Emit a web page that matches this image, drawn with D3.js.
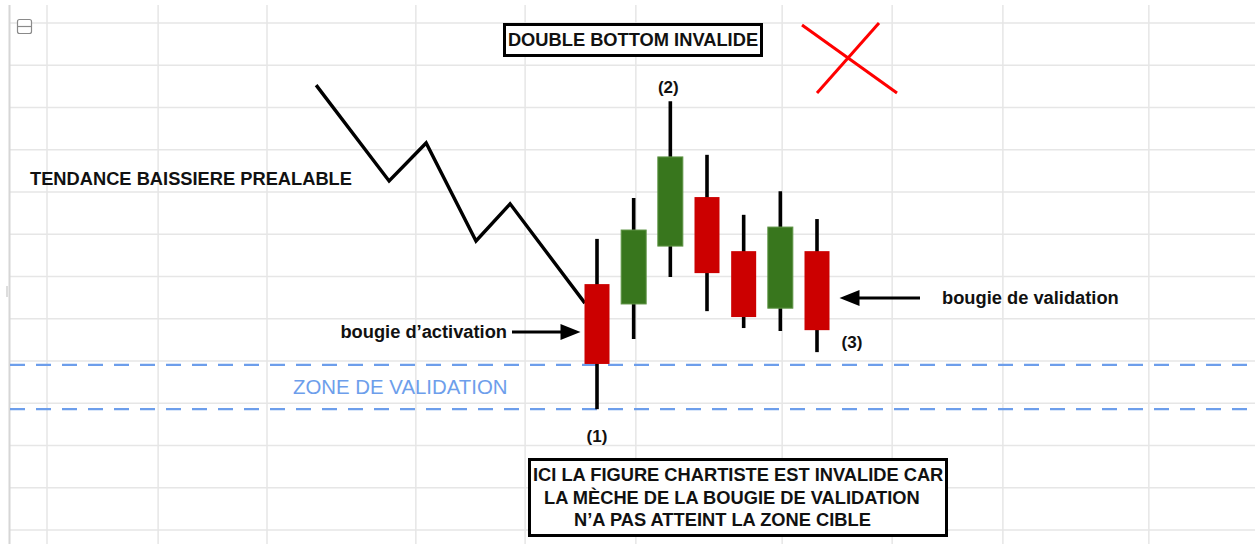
<!DOCTYPE html>
<html>
<head>
<meta charset="utf-8">
<script src="https://cdn.jsdelivr.net/npm/d3@7"></script>
<style>
  html, body { margin: 0; padding: 0; background: #fff; }
  svg { display: block; }
  text { font-family: "Liberation Sans", Arial, Helvetica, sans-serif; }
</style>
</head>
<body>
<div id="chart"></div>
<script>
// ── Data (prices in grid units, x in candle index units) ──
const candles = [0, 1, 2, 3, 4, 5, 6];
const opens  = [5.82, 5.35, 6.72, 7.88, 6.60, 5.25, 6.60];
const closes = [3.93, 7.10, 8.83, 6.08, 5.04, 7.17, 4.73];
const highs  = [6.89, 7.86, 10.15, 8.88, 7.46, 8.02, 7.36];
const lows   = [2.86, 4.52, 5.99, 5.18, 4.78, 4.71, 4.21];

// prior downtrend (zig-zag)
const trendX = [-7.66, -5.67, -4.66, -3.30, -2.37, -0.33];
const trendY = [10.53, 8.26, 9.16, 6.84, 7.72, 5.37];

// validation zone bounds
const zoneTop = 3.91;
const zoneBottom = 2.86;

// spreadsheet background grid
const gridCols = [-15.0, -11.97, -9.0, -4.94, -1.96, 1.06, 5.05, 8.05, 11.07, 15.05];
const gridRows = d3.range(0, 13);

const labels = {
  title: 'DOUBLE BOTTOM INVALIDE',
  trend: 'TENDANCE BAISSIERE PREALABLE',
  activation: 'bougie d\u2019activation',
  validation: 'bougie de validation',
  zone: 'ZONE DE VALIDATION',
  note: ['ICI LA FIGURE CHARTISTE EST INVALIDE CAR', 'LA M\u00c8CHE DE LA BOUGIE DE VALIDATION', 'N\u2019A PAS ATTEINT LA ZONE CIBLE']
};

const W = 1255, H = 544;
const RED = '#cc0000', GREEN = '#38761d', BLUE = '#6d9eeb';
const FS = '18.3px';

const x = d3.scaleLinear().domain([0, 6]).range([597, 817]);
const y = d3.scaleLinear().domain([0, 12]).range([530, 23]);

const svg = d3.select('#chart').append('svg')
  .attr('width', W)
  .attr('height', H);

svg.append('rect').attr('width', W).attr('height', H).attr('fill', '#fff');

// ── Grid ──
const grid = svg.append('g');
grid.selectAll('.row')
  .data(gridRows)
  .enter().append('line')
  .attr('x1', 10).attr('x2', W)
  .attr('y1', d => y(d)).attr('y2', d => y(d))
  .attr('stroke', '#e6e6e6').attr('stroke-width', 1.5);

grid.selectAll('.col')
  .data(gridCols)
  .enter().append('line')
  .attr('x1', d => x(d)).attr('x2', d => x(d))
  .attr('y1', 5).attr('y2', H)
  .attr('stroke', '#e6e6e6').attr('stroke-width', 1.5);

// left border
grid.append('line')
  .attr('x1', 9.5).attr('x2', 9.5).attr('y1', 5).attr('y2', H)
  .attr('stroke', '#d6d6d6').attr('stroke-width', 2);
grid.append('line')
  .attr('x1', 7).attr('x2', 7).attr('y1', 286).attr('y2', 297)
  .attr('stroke', '#bbb').attr('stroke-width', 1);

// collapse icon
svg.append('rect')
  .attr('x', 17.5).attr('y', 19.5).attr('width', 14).attr('height', 14).attr('rx', 2)
  .attr('fill', '#fff').attr('stroke', '#8a8a8a').attr('stroke-width', 1.2);
svg.append('line')
  .attr('x1', 18).attr('x2', 31).attr('y1', 26.5).attr('y2', 26.5)
  .attr('stroke', '#8a8a8a').attr('stroke-width', 1.2);

// ── Validation zone ──
svg.selectAll('.zone')
  .data([zoneTop, zoneBottom])
  .enter().append('line')
  .attr('x1', 10).attr('x2', W)
  .attr('y1', d => y(d)).attr('y2', d => y(d))
  .attr('stroke', BLUE).attr('stroke-width', 2.2)
  .attr('stroke-dasharray', '15,11');

svg.append('text')
  .attr('x', 293).attr('y', (y(zoneTop) + y(zoneBottom)) / 2 + 7)
  .attr('font-size', '20.4px').attr('fill', BLUE)
  .text(labels.zone);

// ── Prior trend ──
const trendLine = d3.line()
  .x((d, i) => x(trendX[i]))
  .y(d => y(d));

svg.append('path')
  .datum(trendY)
  .attr('fill', 'none')
  .attr('stroke', '#000')
  .attr('stroke-width', 3.4)
  .attr('stroke-linejoin', 'miter')
  .attr('d', trendLine);

// ── Candles ──
const bodyW = 25;
const cg = svg.append('g');

cg.selectAll('.wick')
  .data(candles)
  .enter().append('line')
  .attr('x1', i => x(i)).attr('x2', i => x(i))
  .attr('y1', i => y(highs[i])).attr('y2', i => y(lows[i]))
  .attr('stroke', '#000').attr('stroke-width', 3.6);

cg.selectAll('.body')
  .data(candles)
  .enter().append('rect')
  .attr('x', i => x(i) - bodyW / 2)
  .attr('width', bodyW)
  .attr('y', i => y(Math.max(opens[i], closes[i])))
  .attr('height', i => Math.abs(y(opens[i]) - y(closes[i])))
  .attr('fill', i => closes[i] >= opens[i] ? GREEN : RED)
  .attr('stroke', i => closes[i] >= opens[i] ? '#5f9445' : 'none')
  .attr('stroke-width', 1);

// ── Labels ──
const bold = sel => sel.attr('font-weight', 'bold').attr('fill', '#111');

svg.append('text').call(bold)
  .attr('x', x(0)).attr('y', y(lows[0]) + 33)
  .attr('text-anchor', 'middle').attr('font-size', '17px')
  .text('(1)');
svg.append('text').call(bold)
  .attr('x', x(2) - 2).attr('y', y(highs[2]) - 8)
  .attr('text-anchor', 'middle').attr('font-size', '17px')
  .text('(2)');
svg.append('text').call(bold)
  .attr('x', x(6) + 35).attr('y', y(closes[6]) + 18)
  .attr('text-anchor', 'middle').attr('font-size', '17px')
  .text('(3)');

svg.append('text').call(bold)
  .attr('x', 30).attr('y', 185)
  .attr('font-size', FS)
  .text(labels.trend);

// arrows
function arrow(x1, x2, yy) {
  const dir = Math.sign(x2 - x1);
  const head = 20, half = 8;
  svg.append('line')
    .attr('x1', x1).attr('x2', x2 - dir * head + dir * 2)
    .attr('y1', yy).attr('y2', yy)
    .attr('stroke', '#000').attr('stroke-width', 3);
  svg.append('path')
    .attr('d', `M${x2},${yy} L${x2 - dir * head},${yy - half} L${x2 - dir * head},${yy + half} Z`)
    .attr('fill', '#000');
}

const actY = 332;
arrow(512, x(0) - bodyW / 2 - 4, actY);
svg.append('text').call(bold)
  .attr('x', 507).attr('y', actY + 6)
  .attr('text-anchor', 'end').attr('font-size', FS)
  .text(labels.activation);

const valY = 298;
arrow(920, x(6) + bodyW / 2 + 10, valY);
svg.append('text').call(bold)
  .attr('x', 942).attr('y', valY + 6)
  .attr('font-size', FS)
  .text(labels.validation);

// title box
svg.append('rect')
  .attr('x', 504.5).attr('y', 24.5).attr('width', 257).attr('height', 31)
  .attr('fill', '#fff').attr('stroke', '#000').attr('stroke-width', 3);
svg.append('text').call(bold)
  .attr('x', 633).attr('y', 46)
  .attr('text-anchor', 'middle').attr('font-size', FS)
  .text(labels.title);

// red cross
svg.append('line')
  .attr('x1', 802).attr('y1', 25).attr('x2', 897).attr('y2', 93)
  .attr('stroke', '#ff0000').attr('stroke-width', 3);
svg.append('line')
  .attr('x1', 879).attr('y1', 23).attr('x2', 817).attr('y2', 93)
  .attr('stroke', '#ff0000').attr('stroke-width', 3);

// note box
svg.append('rect')
  .attr('x', 529.5).attr('y', 459.5).attr('width', 417).attr('height', 76)
  .attr('fill', '#fff').attr('stroke', '#000').attr('stroke-width', 3);
const noteX = [533, 544, 574];
svg.selectAll('.note')
  .data(labels.note)
  .enter().append('text').call(bold)
  .attr('x', (d, i) => noteX[i])
  .attr('y', (d, i) => 481 + i * 22.5)
  .attr('font-size', FS)
  .text(d => d);
</script>
</body>
</html>
